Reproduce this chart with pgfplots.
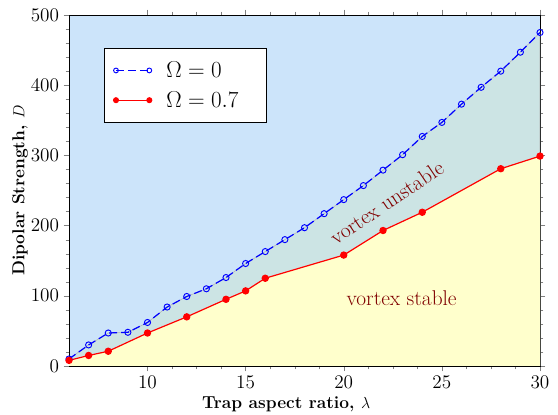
\documentclass[border=0pt]{standalone}
\usepackage{pgfplots}
\pgfplotsset{compat=1.18}
\definecolor{bgblue}{RGB}{204,228,250}
\definecolor{midteal}{RGB}{204,228,228}
\definecolor{lowyellow}{RGB}{255,255,204}
\definecolor{darkred}{RGB}{128,0,0}
\pgfplotstableread{
x y
6 10
7 30
8 47
9 48
10 62
11 84
12 99
13 110
14 126
15 146
16 163
17 180
18 197
19 217
20 237
21 257
22 279
23 301
24 327
25 347
26 373
27 397
28 420
29 447
30 475
}\bluedata
\pgfplotstableread{
x y
6 8
7 15
8 21
10 47
12 70
14 95
15 107
16 125
20 158
22 193
24 219
28 281
30 299
}\reddata
\begin{document}
\begin{tikzpicture}
\begin{axis}[
  scale only axis, width=353.25pt, height=263.25pt,
  xmin=6, xmax=30, ymin=0, ymax=500,
  xtick={10,15,20,25,30}, ytick={0,100,...,500},
  minor x tick num=3, minor y tick num=4,
  tick align=outside,
  major tick length=4pt, minor tick length=2.5pt,
  axis line style={line width=0.6pt},
  axis background/.style={fill=bgblue},
  tick label style={font=\fontsize{14}{17}\selectfont},
  xlabel={\fontsize{13}{16}\selectfont\bfseries Trap aspect ratio, $\lambda$},
  ylabel={\fontsize{13}{16}\selectfont\bfseries Dipolar Strength, $D$},
  xlabel style={at={(axis description cs:0.461,-0.108)}, anchor=center},
  ylabel style={at={(axis description cs:-0.104,0.5)}, anchor=center},
  legend style={at={(0.0743,0.906)}, anchor=north west, draw=black, fill=white,
    font=\fontsize{16}{19}\selectfont, inner xsep=7pt, inner ysep=8pt, row sep=5pt,
    cells={anchor=west}},
  legend image code/.code={\draw[#1, mark size=1.8pt] plot coordinates {(0pt,0pt) (25pt,0pt)};},
]
\addplot[draw=gray!60, fill=midteal, forget plot] table[x=x,y=y]{\bluedata} \closedcycle;
\addplot[draw=none, fill=lowyellow, forget plot] table[x=x,y=y]{\reddata} \closedcycle;
\addplot[blue, line width=0.9pt, dash pattern=on 6pt off 3pt, mark=o, mark size=2.3pt,
  mark options={solid, fill=white, line width=0.7pt}] table[x=x,y=y]{\bluedata};
\addlegendentry{$\kern9pt\Omega = 0$}
\addplot[red, line width=0.9pt, mark=*, mark size=2.3pt, mark options={solid}] table[x=x,y=y]{\reddata};
\addlegendentry{$\kern9pt\Omega = 0.7\kern12pt$}
\node[rotate=34, text=darkred, font=\fontsize{16}{19}\selectfont] at (axis cs:22.19,233) {vortex unstable};
\node[text=darkred, font=\fontsize{16}{19}\selectfont] at (axis cs:22.95,96.4) {vortex stable};
\end{axis}
\pgfresetboundingbox
\path ([shift={(-51.75pt,-36.75pt)}]current axis.south west) rectangle ([shift={(13.5pt,11.25pt)}]current axis.north east);
\end{tikzpicture}
\end{document}
